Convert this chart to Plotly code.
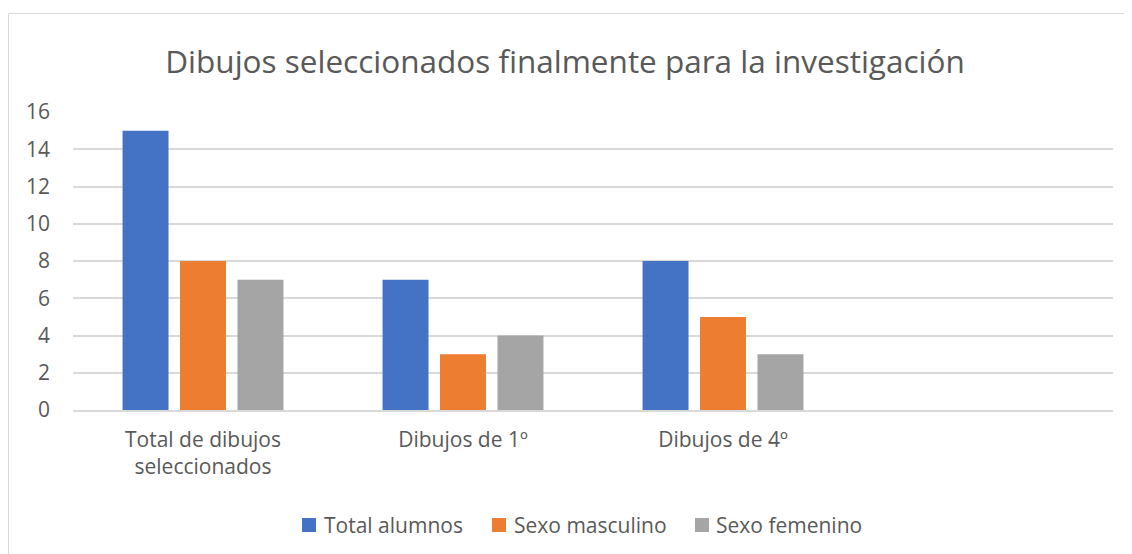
import plotly.graph_objects as go

categories = ["Total de dibujos<br>seleccionados", "Dibujos de 1º", "Dibujos de 4º", " "]
total_alumnos = [15, 7, 8, None]
sexo_masculino = [8, 3, 5, None]
sexo_femenino = [7, 4, 3, None]
series_names = ["Total alumnos", "Sexo masculino", "Sexo femenino"]
colors = ["#4472C4", "#ED7D31", "#A5A5A5"]
y_ticks = [0, 2, 4, 6, 8, 10, 12, 14, 16]

# page is offset by the 8px body margin; figure sized to fit the window
W, H = 1124, 546
ML, MR, MT, MB = 65, 19, 104, 144
PW, PH = W - ML - MR, H - MT - MB
OFF = 8

def px(xpage):
    return (xpage - OFF - ML) / PW

def py(ypage):
    return (H - MB - (ypage - OFF)) / PH

fig = go.Figure()
for name, vals, col in zip(series_names, [total_alumnos, sexo_masculino, sexo_femenino], colors):
    fig.add_trace(go.Bar(x=categories, y=vals, name=name,
                         marker=dict(color=col, line=dict(width=0))))

font_fam = "Open Sans, Noto Sans, sans-serif"
txt_col = "#595959"

shapes = [dict(type="rect", xref="paper", yref="paper",
               x0=px(8.5), x1=px(1140), y0=py(560), y1=py(13.5),
               line=dict(color="#D9D9D9", width=1), fillcolor="rgba(0,0,0,0)", layer="below")]
annotations = []
legend_sq_x = [302, 492, 695]
legend_tx_x = [322, 512, 714]
legend_y = 525
for name, col, sx, tx in zip(series_names, colors, legend_sq_x, legend_tx_x):
    shapes.append(dict(type="rect", xref="paper", yref="paper",
                       x0=px(sx), x1=px(sx + 14), y0=py(legend_y + 7), y1=py(legend_y - 7),
                       line=dict(width=0), fillcolor=col))
    annotations.append(dict(text=name, xref="paper", yref="paper", x=px(tx), y=py(legend_y),
                            xanchor="left", yanchor="middle", showarrow=False,
                            font=dict(family=font_fam, size=21, color=txt_col)))

fig.update_layout(
    width=W, height=H,
    paper_bgcolor="white", plot_bgcolor="white",
    margin=dict(l=ML, r=MR, t=MT, b=MB),
    barmode="group", bargap=0.337, bargroupgap=0.2,
    title=dict(text="Dibujos seleccionados finalmente para la investigación",
               x=(565 - OFF) / W, xanchor="center",
               y=1 - (62 - OFF) / H, yanchor="middle",
               font=dict(family=font_fam, size=31.5, color=txt_col)),
    font=dict(family=font_fam, size=21, color=txt_col),
    xaxis=dict(categoryorder="array", categoryarray=categories, showgrid=False,
               showline=True, linecolor="#D9D9D9", linewidth=1.5, ticks="",
               tickfont=dict(size=21, color=txt_col), fixedrange=True, ticklabelstandoff=10),
    yaxis=dict(range=[0, 16], tickvals=y_ticks, showgrid=True, gridcolor="#D9D9D9",
               gridwidth=1.5, zeroline=False, showline=False, ticks="",
               tickfont=dict(size=21, color=txt_col), ticklabelstandoff=22, fixedrange=True),
    showlegend=False,
    shapes=shapes,
    annotations=annotations,
)

fig.write_html("out.html")
